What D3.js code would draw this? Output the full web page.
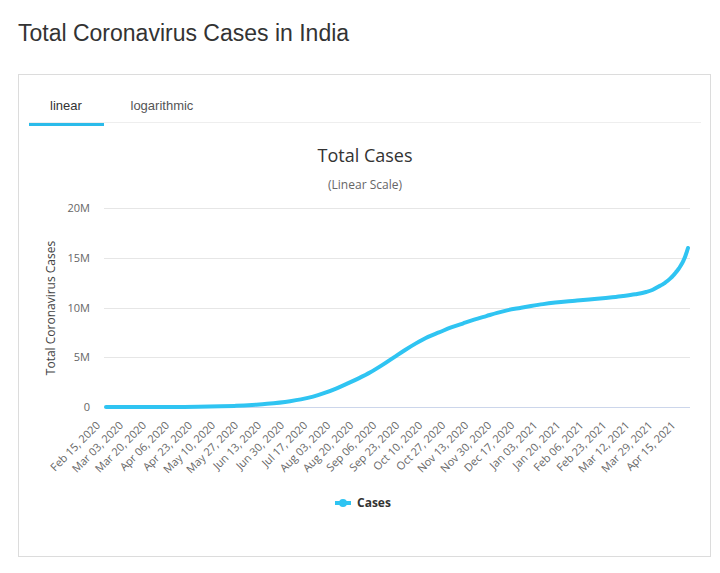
<!DOCTYPE html>
<html><head><meta charset="utf-8">
<script src="https://cdn.jsdelivr.net/npm/d3@7"></script>
<style>
body{margin:0;background:#fff;}
svg{display:block;}
</style></head>
<body><svg id="c" width="720" height="573"></svg>
<script>
const pageTitle = "Total Coronavirus Cases in India";
const tabs = ["linear", "logarithmic"];
const chartTitle = "Total Cases";
const chartSubtitle = "(Linear Scale)";
const yAxisTitle = "Total Coronavirus Cases";
const seriesName = "Cases";

const dates = ["2020-02-15","2020-03-03","2020-03-20","2020-04-06","2020-04-23","2020-05-10","2020-05-20","2020-05-27","2020-06-05","2020-06-13","2020-06-30","2020-07-08","2020-07-17","2020-07-25","2020-08-03","2020-08-12","2020-08-20","2020-08-28","2020-09-06","2020-09-15","2020-09-23","2020-10-01","2020-10-10","2020-10-18","2020-10-27","2020-11-05","2020-11-13","2020-11-22","2020-11-30","2020-12-08","2020-12-17","2020-12-25","2021-01-03","2021-01-12","2021-01-20","2021-01-28","2021-02-06","2021-02-14","2021-02-23","2021-03-03","2021-03-12","2021-03-20","2021-03-25","2021-03-29","2021-04-01","2021-04-03","2021-04-05","2021-04-07","2021-04-09","2021-04-11","2021-04-13","2021-04-14","2021-04-15","2021-04-16","2021-04-17","2021-04-18","2021-04-19","2021-04-20"];
const cases = [3,6,249,4778,23077,67161,112028,158086,236184,320922,585493,767296,1039084,1385494,1855745,2395471,2904329,3462525,4204613,5018034,5732518,6394068,7053806,7494551,7990322,8411724,8773479,9139865,9462809,9735850,9956557,10146845,10340469,10495147,10610883,10701193,10814304,10904940,11030176,11156923,11333728,11555284,11787534,12095855,12302110,12484127,12684477,12926061,13202783,13523717,13868433,14068529,14291917,14530000,14820000,15150000,15550000,15980000];

const tickLabels = ["Feb 15, 2020","Mar 03, 2020","Mar 20, 2020","Apr 06, 2020","Apr 23, 2020","May 10, 2020","May 27, 2020","Jun 13, 2020","Jun 30, 2020","Jul 17, 2020","Aug 03, 2020","Aug 20, 2020","Sep 06, 2020","Sep 23, 2020","Oct 10, 2020","Oct 27, 2020","Nov 13, 2020","Nov 30, 2020","Dec 17, 2020","Jan 03, 2021","Jan 20, 2021","Feb 06, 2021","Feb 23, 2021","Mar 12, 2021","Mar 29, 2021","Apr 15, 2021"];
const yTicks = [0, 5000000, 10000000, 15000000, 20000000];

const lineColor = "#2fc4f2";
const chartFont = "'Open Sans', 'DejaVu Sans', sans-serif";

const svg = d3.select("#c");
const parseISO = d3.utcParse("%Y-%m-%d");
const parseTick = d3.utcParse("%b %d, %Y");
const data = dates.map((d, i) => ({date: parseISO(d), value: cases[i]}));

// page title
svg.append("text").attr("x", 18).attr("y", 41)
  .attr("font-family", "'Liberation Sans', Arial, sans-serif").attr("font-size", 23)
  .attr("fill", "#333").text(pageTitle);

// panel box
svg.append("rect").attr("x", 18.5).attr("y", 74.5).attr("width", 692).attr("height", 482)
  .attr("fill", "none").attr("stroke", "#dcdcdc");
svg.append("line").attr("x1", 29).attr("x2", 701).attr("y1", 122.5).attr("y2", 122.5)
  .attr("stroke", "#eeeeee");
svg.append("rect").attr("x", 29).attr("y", 123).attr("width", 75).attr("height", 3)
  .attr("fill", "#2bbbea");
svg.append("text").attr("x", 66).attr("y", 110).attr("text-anchor", "middle")
  .attr("font-family", "'Liberation Sans', Arial, sans-serif").attr("font-size", 13)
  .attr("fill", "#333").text(tabs[0]);
svg.append("text").attr("x", 130.5).attr("y", 110)
  .attr("font-family", "'Liberation Sans', Arial, sans-serif").attr("font-size", 13)
  .attr("fill", "#555").text(tabs[1]);

// chart titles
svg.append("text").attr("x", 365).attr("y", 162).attr("text-anchor", "middle")
  .attr("font-family", chartFont).attr("font-size", 18).attr("fill", "#333").text(chartTitle);
svg.append("text").attr("x", 365).attr("y", 189).attr("text-anchor", "middle")
  .attr("font-family", chartFont).attr("font-size", 12).attr("fill", "#666").text(chartSubtitle);

// scales
const x = d3.scaleUtc().domain([data[0].date, data[data.length - 1].date]).range([106, 688]);
const y = d3.scaleLinear().domain([0, 20000000]).range([407, 208]);

// gridlines
svg.append("g").selectAll("line").data(yTicks).join("line")
  .attr("x1", 104).attr("x2", 690)
  .attr("y1", d => Math.round(y(d)) + 0.5).attr("y2", d => Math.round(y(d)) + 0.5)
  .attr("stroke", d => d === 0 ? "#ccd6eb" : "#e6e6e6");

// y labels
svg.append("g").selectAll("text").data(yTicks).join("text")
  .attr("x", 90).attr("y", d => y(d) + 4).attr("text-anchor", "end")
  .attr("font-family", chartFont).attr("font-size", 11).attr("fill", "#666")
  .text(d => d === 0 ? "0" : (d / 1e6) + "M");

// y axis title
svg.append("text").attr("transform", "translate(55,308) rotate(-90)")
  .attr("text-anchor", "middle").attr("font-family", chartFont).attr("font-size", 12)
  .attr("fill", "#444").text(yAxisTitle);

// x labels
svg.append("g").selectAll("text").data(tickLabels).join("text")
  .attr("transform", d => `translate(${x(parseTick(d)) - 5},426) rotate(-45)`)
  .attr("text-anchor", "end").attr("font-family", chartFont).attr("font-size", 11)
  .attr("fill", "#666").text(d => d);

// line
const line = d3.line().x(d => x(d.date)).y(d => y(d.value)).curve(d3.curveMonotoneX);
svg.append("path").datum(data).attr("d", line).attr("fill", "none")
  .attr("stroke", lineColor).attr("stroke-width", 4).attr("stroke-linecap", "round")
  .attr("stroke-linejoin", "round");

// legend
svg.append("line").attr("x1", 335).attr("x2", 351).attr("y1", 503).attr("y2", 503)
  .attr("stroke", lineColor).attr("stroke-width", 4);
svg.append("circle").attr("cx", 343).attr("cy", 503).attr("r", 4).attr("fill", lineColor);
svg.append("text").attr("x", 357).attr("y", 507).attr("font-family", chartFont)
  .attr("font-size", 12).attr("font-weight", "bold").attr("fill", "#333").text(seriesName);
</script>
</body></html>
